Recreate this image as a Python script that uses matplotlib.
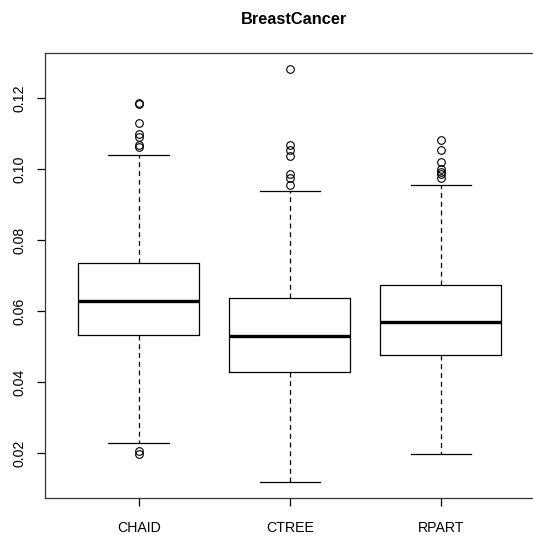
import matplotlib
matplotlib.use("Agg")
import matplotlib.pyplot as plt

plt.rcParams['font.family'] = ['Liberation Sans', 'DejaVu Sans']

methods = ["CHAID", "CTREE", "RPART"]
whislo = [0.0228, 0.0118, 0.0198]
q1 = [0.0532, 0.0429, 0.0477]
med = [0.0630, 0.0531, 0.0570]
q3 = [0.0735, 0.0637, 0.0674]
whishi = [0.1040, 0.0940, 0.0956]
outliers_chaid = [0.1188, 0.1185, 0.1130, 0.1101, 0.1090, 0.1068, 0.1064, 0.0206, 0.0197]
outliers_ctree = [0.1282, 0.1068, 0.1056, 0.1037, 0.0987, 0.0977, 0.0956]
outliers_rpart = [0.1083, 0.1055, 0.1020, 0.1001, 0.0993, 0.0987, 0.0975]
yticks = [0.02, 0.04, 0.06, 0.08, 0.10, 0.12]

fliers = [outliers_chaid, outliers_ctree, outliers_rpart]
stats = []
for i, m in enumerate(methods):
    stats.append(dict(label=m, whislo=whislo[i], q1=q1[i], med=med[i],
                      q3=q3[i], whishi=whishi[i], fliers=fliers[i]))

fig = plt.figure(figsize=(5.33, 5.37), dpi=100)
ax = fig.add_axes([45/533, (537-498)/537, (534.5-45)/533, (498-53)/537])

ax.bxp(stats, positions=[1, 2, 3], widths=0.8, patch_artist=False,
       boxprops=dict(color='black', linewidth=0.9),
       medianprops=dict(color='black', linewidth=2.4, solid_capstyle='butt'),
       whiskerprops=dict(color='black', linewidth=0.9, linestyle=(0, (4, 3))),
       capprops=dict(color='black', linewidth=0.9),
       capwidths=0.4,
       flierprops=dict(marker='o', markerfacecolor='none', markeredgecolor='black',
                       markersize=5.5, markeredgewidth=0.8))

ax.set_xlim(0.38, 3.62)
ax.set_ylim(0.0074, 0.1328)
ax.set_yticks(yticks)
ax.set_yticklabels([f"{v:.2f}" for v in yticks], rotation=90, va='center', fontsize=10.2)
ax.set_xticks([1, 2, 3])
ax.set_xticklabels(methods, fontsize=10.2)
ax.tick_params(axis='both', direction='out', length=5.5, width=0.9, color='black')
ax.tick_params(axis='x', pad=11)
ax.tick_params(axis='y', pad=8)
for s in ax.spines.values():
    s.set_linewidth(0.9)
    s.set_color('#333333')

fig.text(294/533, 1 - 19/537, "BreastCancer", ha='center', va='center',
         fontsize=11.8, fontweight='bold')

fig.savefig("out.png", dpi=100)
